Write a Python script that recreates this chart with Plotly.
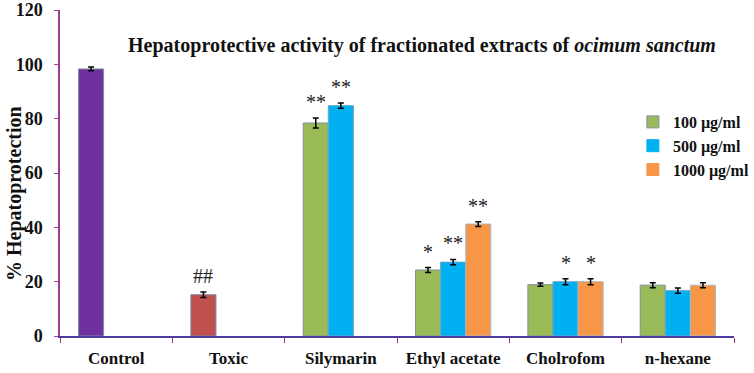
import plotly.graph_objects as go

categories = ["Control", "Toxic", "Silymarin", "Ethyl acetate", "Cholrofom", "n-hexane"]
series_names = ["100 µg/ml", "500 µg/ml", "1000 µg/ml"]

s100 = [98.3, 15.2, 78.4, 24.3, 18.9, 18.7]
s100_err = [0.7, 1.0, 1.8, 0.9, 0.6, 0.9]
s100_sig = ["", "##", "**", "*", "", ""]

s500 = [None, None, 84.8, 27.2, 20.0, 16.7]
s500_err = [0, 0, 1.0, 1.0, 1.1, 1.0]
s500_sig = ["", "", "**", "**", "*", ""]

s1000 = [None, None, None, 41.2, 20.0, 18.7]
s1000_err = [0, 0, 0, 0.9, 1.1, 0.9]
s1000_sig = ["", "", "", "**", "*", ""]

y_ticks = [0, 20, 40, 60, 80, 100, 120]

c_control = "#7030a0"
c_toxic = "#c0504d"
c_green = "#9bbb59"
c_blue = "#00b0f0"
c_orange = "#f79646"

s100_colors = [c_control, c_toxic] + [c_green] * 4

FONT = "Liberation Serif"
W, H = 754, 373
ML, MR, MT, MB = 60, 20, 10, 37
BARGAP = 0.33
plot_h = H - MT - MB

fig = go.Figure()
traces = [
    (series_names[0], s100, s100_err, s100_colors, c_green, "#7f8fa0", "g1"),
    (series_names[1], s500, s500_err, c_blue, c_blue, "#6fa8c8", "g2"),
    (series_names[2], s1000, s1000_err, c_orange, c_orange, "#a8b8c8", "g3"),
]
for name, vals, errs, col, legcol, lcol, grp in traces:
    fig.add_trace(go.Bar(
        x=categories, y=vals, name=name, offsetgroup=grp, showlegend=False,
        marker=dict(color=col, line=dict(color=lcol, width=1)),
        error_y=dict(type="data", array=errs, visible=True, color="black", thickness=1.5, width=3),
    ))
# legend entries (empty bars sharing each series' slot)
for name, vals, errs, col, legcol, lcol, grp in traces:
    fig.add_trace(go.Bar(
        x=[categories[0]], y=[None], name=name, offsetgroup=grp, showlegend=True,
        marker=dict(color=legcol, line=dict(color=("#7f8f9f" if grp == "g1" else legcol), width=1)),
    ))

# significance marks
plot_w = W - ML - MR
bar_w = plot_w / len(categories) * (1 - BARGAP) / 3
annotations = []
for k, (vals, errs, sigs) in enumerate([(s100, s100_err, s100_sig), (s500, s500_err, s500_sig), (s1000, s1000_err, s1000_sig)]):
    for cat, v, e, s in zip(categories, vals, errs, sigs):
        if s and v is not None:
            annotations.append(dict(
                x=cat, y=v + e, xref="x", yref="y", text=s, showarrow=False,
                xshift=(k - 1) * bar_w, yshift=3, yanchor="bottom",
                font=dict(family=FONT, size=20, color="#222"),
            ))

annotations.append(dict(
    text="% Hepatoprotection", textangle=-90, showarrow=False,
    xref="paper", yref="paper", x=(14 - ML) / plot_w, y=(H - MB - 194) / plot_h,
    xanchor="center", yanchor="middle",
    font=dict(family=FONT, size=20, weight="bold", color="#111"),
))

fig.update_layout(
    width=W, height=H,
    margin=dict(l=ML, r=MR, t=MT, b=MB, autoexpand=False),
    paper_bgcolor="white", plot_bgcolor="white",
    barmode="group", bargap=BARGAP, bargroupgap=0,
    font=dict(family=FONT, color="#111"),
    title=dict(
        text="Hepatoprotective activity of fractionated extracts of <i>ocimum sanctum</i>",
        font=dict(family=FONT, size=20, weight="bold", color="#111"),
        x=(422 - ML) / plot_w, xref="paper", xanchor="center", y=1 - 45 / H, yanchor="middle",
    ),
    legend=dict(
        x=0.85, y=(H - MB - 105) / plot_h, xanchor="left", yanchor="top",
        font=dict(family=FONT, size=16, weight="bold", color="#111"),
        bgcolor="rgba(0,0,0,0)", tracegroupgap=0, itemwidth=30,
    ),
    xaxis=dict(
        showline=True, linecolor="#4a3ca0", linewidth=1.5,
        ticks="outside", tickson="boundaries", ticklen=5, tickcolor="#a03070",
        tickfont=dict(family=FONT, size=17, weight="bold", color="#111"),
        ticklabelstandoff=6, automargin=False,
        showgrid=False,
    ),
    yaxis=dict(
        range=[0, 120], tickvals=y_ticks,
        showline=True, linecolor="#a0408c", linewidth=1.5,
        ticks="outside", ticklen=4, tickcolor="#a0408c",
        tickfont=dict(family=FONT, size=18, weight="bold", color="#111"),
        ticklabelstandoff=8, automargin=False, ticklabeloverflow="allow",
        showgrid=False, zeroline=False,
    ),
    annotations=annotations,
)

fig.write_html("out.html", config={"displayModeBar": False},
               post_script="document.body.style.margin='0';")
